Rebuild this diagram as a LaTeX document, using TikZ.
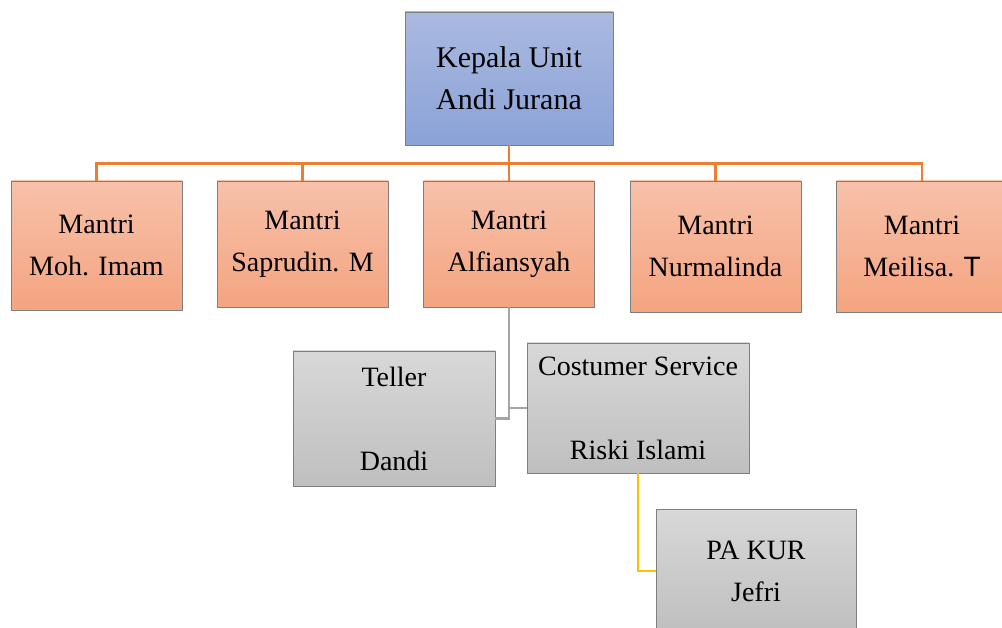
\documentclass[tikz,border=0pt]{standalone}
\usepackage{fontspec}
\setmainfont{Liberation Serif}
\newfontfamily\arialfont{Liberation Sans}
\usetikzlibrary{positioning}

\definecolor{bluetop}{HTML}{AABADF}
\definecolor{bluebot}{HTML}{8BA2D8}
\definecolor{peachtop}{HTML}{F7C1AA}
\definecolor{peachbot}{HTML}{F4A480}
\definecolor{greytop}{HTML}{D8D8D8}
\definecolor{greybot}{HTML}{BFBFBF}
\definecolor{boxline}{HTML}{7F7F7F}
\definecolor{orangeline}{HTML}{ED7D31}
\definecolor{yellowline}{HTML}{FFC000}
\definecolor{greyline}{HTML}{A5A5A5}

\tikzset{
  box/.style={draw=boxline, line width=0.9pt, inner sep=0pt, align=center,
    font=\fontsize{28}{42}\selectfont},
  kepala/.style={box, top color=bluetop, bottom color=bluebot,
    minimum width=208, minimum height=133, font=\fontsize{30}{42}\selectfont},
  mantri/.style={box, top color=peachtop, bottom color=peachbot,
    minimum width=171},
  staf/.style={box, top color=greytop, bottom color=greybot},
  link/.style={line width=2.6pt}
}

\begin{document}
\begin{tikzpicture}[x=1pt, y=-1pt]
  \useasboundingbox (0,0) rectangle (1002,628);

  % Kepala unit
  \node[kepala] (kepala) at (509,78.5) {Kepala Unit\\Andi Jurana};

  % Mantri
  \node[mantri, minimum height=129] (imam) at (96.5,245.5) {Mantri\\Moh. Imam};
  \node[mantri, minimum height=126] (saprudin) at (302.5,244) {Mantri\\Saprudin. M};
  \node[mantri, minimum height=126] (alfiansyah) at (509,244) {Mantri\\Alfiansyah};
  \node[mantri, minimum height=131] (nurmalinda) at (715.5,246.5) {Mantri\\Nurmalinda};
  \node[mantri, minimum height=131] (meilisa) at (922,246.5) {Mantri\\Meilisa. {\arialfont T}};

  % Staf
  \node[staf, minimum width=202, minimum height=135] (teller) at (394,418.5) {Teller\\ \\Dandi};
  \node[staf, minimum width=222, minimum height=130] (cs) at (638,408) {Costumer Service\\ \\Riski Islami};
  \node[staf, minimum width=200, minimum height=124] (pakur) at (756,571) {PA KUR\\Jefri};

  % Garis kepala ke mantri
  \foreach \m in {imam, saprudin, alfiansyah, nurmalinda, meilisa} {
    \draw[link, orangeline] (kepala.south) -- ++(0,18) -| (\m.north);
  }

  % Garis mantri ke staf
  \draw[link, greyline] (alfiansyah.south) |- (teller.east);
  \draw[link, greyline] (alfiansyah.south |- cs.west) -- (cs.west);
  \draw[link, yellowline] (cs.south) |- (pakur.west);
\end{tikzpicture}
\end{document}
